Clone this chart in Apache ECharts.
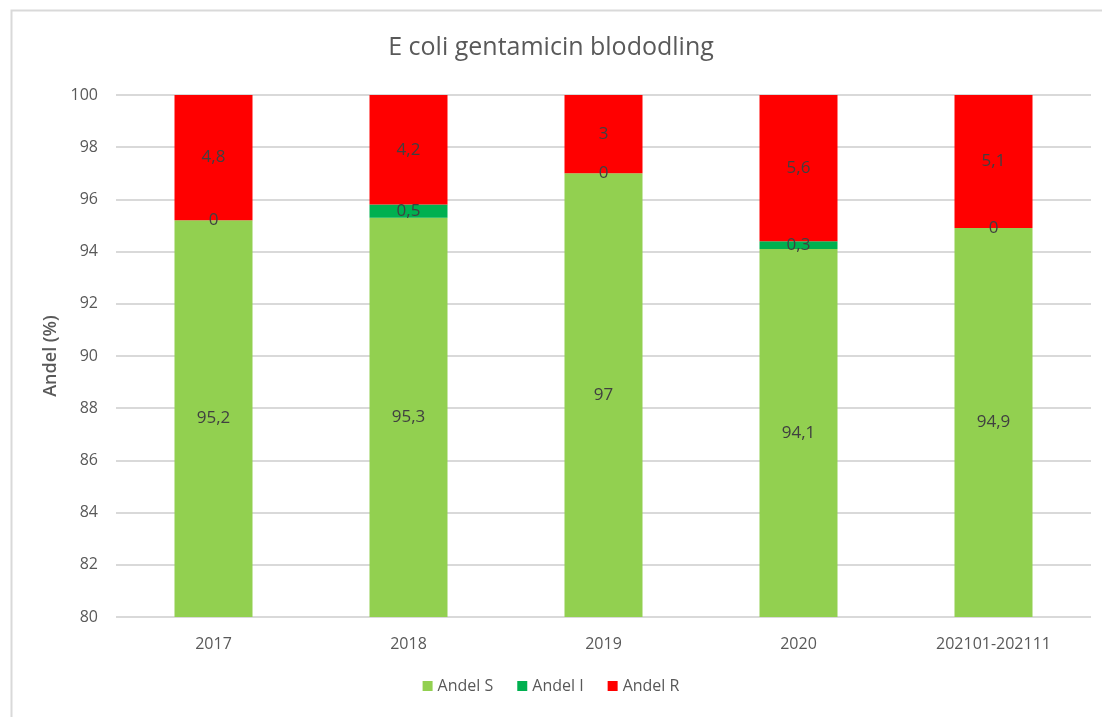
<!DOCTYPE html>
<html>
<head>
<meta charset="utf-8">
<script src="https://cdn.jsdelivr.net/npm/echarts@6/dist/echarts.min.js"></script>
<style>
  html, body { margin: 0; padding: 0; background: #fff; }
  #chart { width: 1102px; height: 717px; }
</style>
</head>
<body>
<div id="chart"></div>
<script>
// kategorier och andelar (%)
const categories = ['2017', '2018', '2019', '2020', '202101-202111'];
const andelS = [95.2, 95.3, 97, 94.1, 94.9];
const andelI = [0, 0.5, 0, 0.3, 0];
const andelR = [4.8, 4.2, 3, 5.6, 5.1];
const yTicks = { min: 80, max: 100, step: 2 };

const textColor = '#595959';
const labelFmt = p => String(p.value).replace('.', ',');

function barSeries(name, data, color) {
  return {
    name: name,
    type: 'bar',
    stack: 'andel',
    data: data,
    barWidth: '40%',
    itemStyle: { color: color },
    label: {
      show: true,
      position: 'inside',
      color: '#404040',
      fontSize: 17,
      fontFamily: 'Open Sans',
      formatter: labelFmt
    }
  };
}

let myChart = echarts.init(document.getElementById('chart'));
myChart.setOption({
  animation: false,
  title: {
    text: 'E coli gentamicin blododling',
    left: 'center',
    top: 30,
    textStyle: { color: textColor, fontSize: 25, fontWeight: 'normal', fontFamily: 'Open Sans' }
  },
  legend: {
    bottom: 18,
    left: 'center',
    icon: 'rect',
    itemWidth: 10,
    itemHeight: 10,
    itemGap: 24,
    textStyle: { color: textColor, fontSize: 16, fontFamily: 'Open Sans' },
    data: ['Andel S', 'Andel I', 'Andel R']
  },
  grid: { left: 116, right: 11, top: 95, bottom: 100, containLabel: false },
  graphic: [{
    type: 'rect',
    shape: { x: 11.5, y: 10.5, width: 1200, height: 800 },
    style: { fill: 'none', stroke: '#d9d9d9', lineWidth: 2 },
    silent: true
  }],
  xAxis: {
    type: 'category',
    data: categories,
    axisLine: { show: false },
    axisTick: { show: false },
    axisLabel: { color: textColor, fontSize: 16, fontFamily: 'Open Sans', margin: 19 }
  },
  yAxis: {
    type: 'value',
    min: yTicks.min,
    max: yTicks.max,
    interval: yTicks.step,
    startValue: yTicks.min,
    name: 'Andel (%)',
    nameLocation: 'middle',
    nameGap: 56,
    nameTextStyle: { color: textColor, fontSize: 18, fontWeight: 600, fontFamily: 'Open Sans' },
    axisLine: { show: false },
    axisTick: { show: false },
    axisLabel: { color: textColor, fontSize: 16, fontFamily: 'Open Sans', margin: 18 },
    splitLine: { lineStyle: { color: '#d9d9d9', width: 2 } }
  },
  series: [
    barSeries('Andel S', andelS, '#92d050'),
    barSeries('Andel I', andelI, '#00b050'),
    barSeries('Andel R', andelR, '#ff0000')
  ]
});
</script>
</body>
</html>
